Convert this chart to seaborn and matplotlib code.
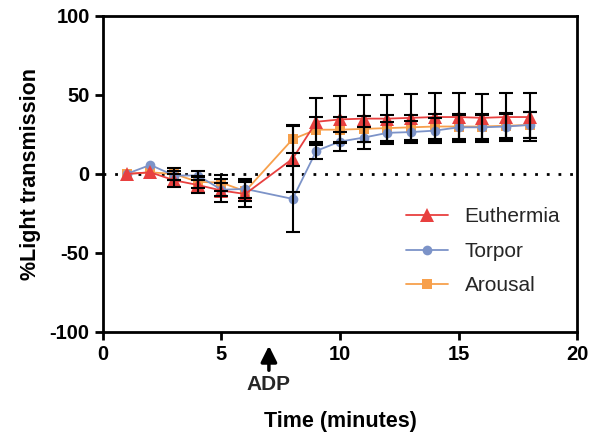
import numpy as np
import pandas as pd
import matplotlib
matplotlib.use('Agg')
import matplotlib.pyplot as plt
import seaborn as sns

# Dados (media e desvio)
tempo = [1, 2, 3, 4, 5, 6, 8, 9, 10, 11, 12, 13, 14, 15, 16, 17, 18]
euth_media = [0, 1, -4, -7, -10.5, -12.7, 9.6, 33, 34.5, 35, 35, 35.5, 36, 36, 35.5, 36, 36]
euth_dp = [0, 0, 4, 5, 7, 8, 21, 15, 15, 15, 15, 15, 15, 15.5, 15, 15, 15]
torpor_media = [0, 5.7, -1, -1, -10, -9.5, -15.8, 14.6, 20.5, 23, 26, 26.5, 27.4, 29.5, 29.5, 30, 31]
torpor_dp = [0, 0, 3, 3, 4, 6, 21, 5, 6, 7, 7, 7, 8, 8, 8, 8, 8]
arousal_media = [0, 1, 0, -5, -5.5, -11, 22, 28, 28, 28.5, 29, 29.5, 30, 30, 30, 30.5, 31]
arousal_dp = [0, 0, 4, 4, 5, 6, 9, 8, 8, 8, 8, 8, 8, 8, 8, 8, 8]

grupos = ['Euthermia', 'Torpor', 'Arousal']
cores = {'Euthermia': '#E8403F', 'Torpor': '#7C93C8', 'Arousal': '#F7A04C'}
marcadores = {'Euthermia': '^', 'Torpor': 'o', 'Arousal': 's'}
tamanhos = {'Euthermia': 10, 'Torpor': 7, 'Arousal': 7}

df = pd.concat([
    pd.DataFrame({'tempo': tempo, 'media': euth_media, 'dp': euth_dp, 'grupo': 'Euthermia'}),
    pd.DataFrame({'tempo': tempo, 'media': torpor_media, 'dp': torpor_dp, 'grupo': 'Torpor'}),
    pd.DataFrame({'tempo': tempo, 'media': arousal_media, 'dp': arousal_dp, 'grupo': 'Arousal'}),
])

sns.set_style('ticks')
plt.rcParams['font.family'] = ['Liberation Sans', 'DejaVu Sans']
plt.rcParams['axes.unicode_minus'] = False

fig, ax = plt.subplots(figsize=(5.95, 4.42), dpi=100)
fig.subplots_adjust(left=0.173, right=0.970, top=0.964, bottom=0.249)

# linha pontilhada em zero
ax.axhline(0, color='black', linestyle=(0, (1, 3.2)), linewidth=2, zorder=1)

# ordem de desenho: arousal, torpor, euthermia por cima
for i, g in enumerate(['Arousal', 'Torpor', 'Euthermia']):
    sub = df[df['grupo'] == g]
    sns.lineplot(data=sub, x='tempo', y='media', ax=ax, color=cores[g],
                 marker=marcadores[g], markersize=tamanhos[g], markeredgewidth=0,
                 linewidth=1.3, label=g, zorder=3 + i, legend=False)

for g in grupos:
    sub = df[(df['grupo'] == g) & (df['dp'] > 0)]
    ax.errorbar(sub['tempo'], sub['media'], yerr=sub['dp'], fmt='none',
                ecolor='black', elinewidth=1.5, capsize=5, capthick=1.5, zorder=7)

ax.set_xlim(0, 20)
ax.set_ylim(-100, 100)
ax.set_xticks([0, 5, 10, 15, 20])
ax.set_yticks([-100, -50, 0, 50, 100])
for s in ax.spines.values():
    s.set_linewidth(2)
    s.set_color('black')
ax.tick_params(width=2, length=6, labelsize=14.5, direction='out', color='black', labelcolor='black')
for lb in ax.get_xticklabels() + ax.get_yticklabels():
    lb.set_fontweight('bold')

ax.set_xlabel('Time (minutes)', fontsize=15.5, fontweight='bold', labelpad=34, color='black')
ax.set_ylabel('%Light transmission', fontsize=15.5, fontweight='bold', labelpad=6, color='black')

# seta do ADP
ax.annotate('', xy=(7, -107), xytext=(7, -126), annotation_clip=False,
            arrowprops=dict(arrowstyle='-|>', color='black', lw=2.5, mutation_scale=24))
ax.text(7, -133, 'ADP', ha='center', va='center', fontsize=15, fontweight='bold')

handles, labels = ax.get_legend_handles_labels()
ordem = [labels.index(g) for g in grupos]
ax.legend([handles[i] for i in ordem], grupos, loc='center left',
          bbox_to_anchor=(0.6, 0.255), frameon=False, fontsize=15,
          handlelength=2.0, labelspacing=0.75)

plt.savefig('out.png', dpi=100)
